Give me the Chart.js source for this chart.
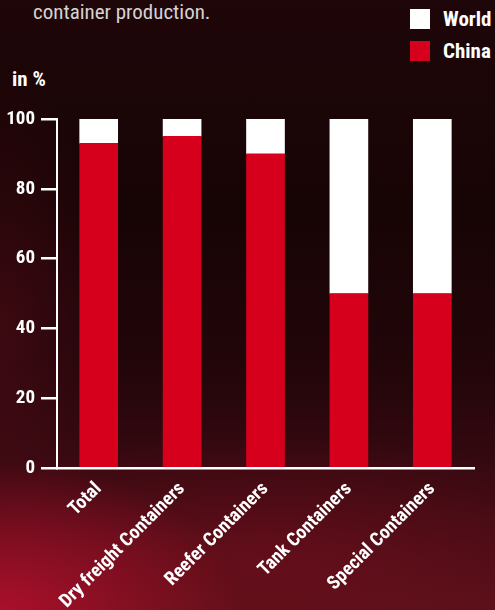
<!DOCTYPE html>
<html>
<head>
<meta charset="utf-8">
<script src="https://cdn.jsdelivr.net/npm/chart.js@4"></script>
<style>
  html, body { margin: 0; padding: 0; }
  body {
    width: 495px; height: 610px; overflow: hidden; position: relative;
    background:
      radial-gradient(ellipse 240px 150px at 0px 610px, rgba(185, 15, 45, 0.85), rgba(185, 15, 45, 0) 100%),
      radial-gradient(ellipse 360px 130px at 260px 560px, rgba(120, 15, 30, 0.55), rgba(120, 15, 30, 0) 100%),
      radial-gradient(ellipse 120px 260px at 0px 330px, rgba(90, 12, 25, 0.5), rgba(90, 12, 25, 0) 100%),
      linear-gradient(180deg, #1e0609 0%, #170405 35%, #22060a 60%, #3c0a12 82%, #581019 100%);
    font-family: 'Roboto Condensed', 'Liberation Sans Narrow', 'Liberation Sans', Arial, sans-serif;
  }
  #chart { position: absolute; left: 0; top: 0; }
  .intro { position: absolute; left: 33px; top: 0px; color: #d8d2d2; font-size: 21px; }
  .unit { position: absolute; left: 12px; top: 67px; color: #fff; font-weight: bold; font-size: 21px; }
  .legend { position: absolute; left: 410px; top: 9px; color: #fff; font-weight: bold; font-size: 21px; }
  .legend div { height: 32px; display: flex; align-items: flex-start; }
  .legend span.box { width: 20px; height: 20px; margin-right: 13px; display: inline-block; }
  .legend span.lbl { line-height: 20px; }
</style>
</head>
<body>
<div class="intro">container production.</div>
<div class="unit">in %</div>
<div class="legend">
  <div><span class="box" style="background:#ffffff"></span><span class="lbl">World</span></div>
  <div><span class="box" style="background:#d6001c"></span><span class="lbl">China</span></div>
</div>
<canvas id="chart" width="495" height="610"></canvas>
<script>
// Share of world container production, in %
const categories = ['Total', 'Dry freight Containers', 'Reefer Containers', 'Tank Containers', 'Special Containers'];
const chinaShare = [93, 95, 90, 50, 50];
const worldRest = [7, 5, 10, 50, 50];
const yTicks = [0, 20, 40, 60, 80, 100];

const fontFamily = "'Roboto Condensed', 'Liberation Sans Narrow', 'Liberation Sans', Arial, sans-serif";

const ctx = document.getElementById('chart').getContext('2d');
const chart = new Chart(ctx, {
  type: 'bar',
  data: {
    labels: categories,
    datasets: [
      { label: 'China', data: chinaShare, backgroundColor: '#d6001c', barThickness: 38 },
      { label: 'World', data: worldRest, backgroundColor: '#ffffff', barThickness: 38 }
    ]
  },
  options: {
    responsive: false,
    animation: false,
    layout: { padding: { left: 0, right: 21, top: 119, bottom: 0 } },
    plugins: { legend: { display: false }, tooltip: { enabled: false } },
    scales: {
      x: {
        stacked: true,
        grid: { display: false },
        border: { color: '#ffffff', width: 2.5 },
        ticks: {
          color: '#ffffff',
          font: { family: fontFamily, size: 19, weight: 'bold' },
          maxRotation: 45, minRotation: 45,
          padding: 2
        },
        afterFit: (scale) => { scale.height = 610 - 468; }
      },
      y: {
        stacked: true,
        min: 0, max: 100,
        afterBuildTicks: (scale) => { scale.ticks = yTicks.map(v => ({ value: v })); },
        grid: { drawOnChartArea: false, color: '#ffffff', lineWidth: 2.5, tickLength: 16 },
        border: { color: '#ffffff', width: 2 },
        ticks: {
          color: '#ffffff',
          font: { family: fontFamily, size: 19, weight: 'bold' },
          padding: 6
        },
        afterFit: (scale) => { scale.width = 57; }
      }
    }
  }
});
</script>
</body>
</html>
